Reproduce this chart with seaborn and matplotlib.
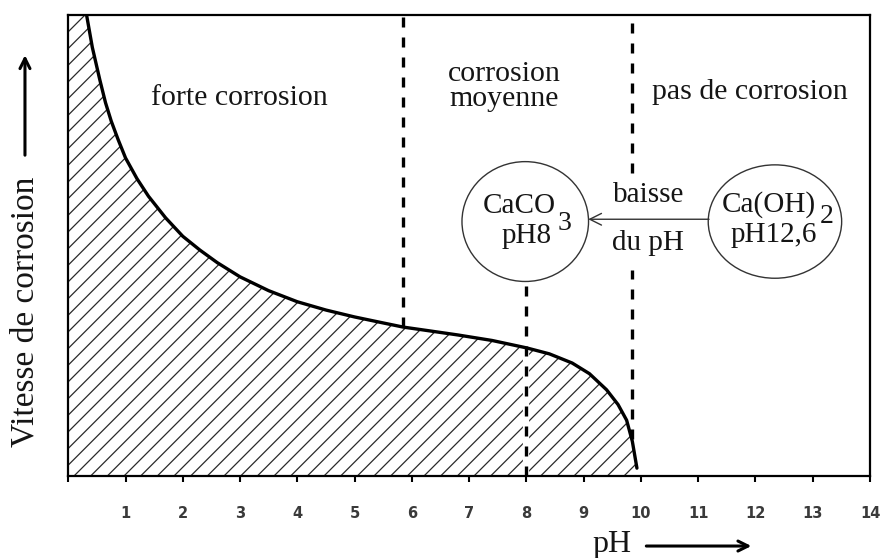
import matplotlib
matplotlib.use("Agg")
import pandas as pd
import seaborn as sns
from matplotlib import pyplot as plt
from matplotlib.patches import Ellipse

# vitesse de corrosion (1 = haut du cadre)
ph = [0.32, 0.42, 0.55, 0.65, 0.75, 0.87, 1.0, 1.2, 1.4, 1.7, 2.0, 2.3, 2.6, 3.0, 3.5, 4.0,
      4.5, 5.0, 5.5, 5.85, 6.3, 6.8, 7.4, 8.0, 8.4, 8.8, 9.1, 9.4, 9.6, 9.75, 9.85, 9.93]
vitesse = [1.0, 0.93, 0.86, 0.81, 0.77, 0.73, 0.69, 0.645, 0.607, 0.56, 0.52, 0.49, 0.463, 0.432, 0.402, 0.378,
           0.36, 0.345, 0.332, 0.323, 0.315, 0.306, 0.294, 0.278, 0.265, 0.245, 0.222, 0.187, 0.155, 0.121, 0.075, 0.017]

zones = ["forte corrosion", "corrosion\nmoyenne", "pas de corrosion"]
ph_limites = [5.85, 9.85]
ph_caco3 = 8.0
ph_tick_labels = [""] + [str(i) for i in range(1, 15)]

SERIF = "Liberation Serif"
INK = "#151515"

sns.set_theme(style="white")
plt.rcParams["font.family"] = [SERIF, "DejaVu Sans"]
plt.rcParams["hatch.linewidth"] = 0.9

df = pd.DataFrame({"pH": ph, "vitesse": vitesse})

fig = plt.figure(figsize=(8.82, 5.58), dpi=100)
ax = fig.add_axes([0.0774, 0.147, 0.909, 0.826])

# zone hachuree sous la courbe
ax.fill_between([0] + ph, [1.0] + vitesse, 0, facecolor="white",
                edgecolor="#2a2a2a", hatch="//", linewidth=0, zorder=1)
sns.lineplot(data=df, x="pH", y="vitesse", ax=ax, color="black", lw=2.4, zorder=4)

# limites des zones
dash = (3.0, 3.0)
ax.plot([ph_limites[0]] * 2, [vitesse[ph.index(5.85)], 1.0], color="black", lw=2.4, dashes=dash, zorder=3)
ax.plot([ph_limites[1]] * 2, [0.657, 1.0], color="black", lw=2.4, dashes=dash, zorder=3)
ax.plot([ph_limites[1]] * 2, [0.08, 0.447], color="black", lw=2.4, dashes=dash, zorder=3)
ax.plot([ph_caco3] * 2, [0, vitesse[ph.index(8.0)]], color="white", lw=4.5, zorder=2)
ax.plot([ph_caco3] * 2, [0, 0.421], color="black", lw=2.4, dashes=dash, zorder=3)

# textes des zones
ax.text(2.98, 0.82, zones[0], ha="center", va="center", fontsize=21.5, color=INK)
ax.text(7.61, 0.846, zones[1], ha="center", va="center", fontsize=21.5, color=INK, linespacing=0.95)
ax.text(11.9, 0.834, zones[2], ha="center", va="center", fontsize=21.5, color=INK)

# cercles CaCO3 / Ca(OH)2
ax.add_patch(Ellipse((7.98, 0.552), 2.21, 0.26, facecolor="white", edgecolor="#333333", lw=1.0, zorder=5))
ax.add_patch(Ellipse((12.34, 0.552), 2.33, 0.246, facecolor="white", edgecolor="#333333", lw=1.0, zorder=5))
ax.text(7.87, 0.585, "CaCO", ha="center", va="center", fontsize=21, color=INK, zorder=6)
ax.text(8.67, 0.547, "3", ha="center", va="center", fontsize=20, color=INK, zorder=6)
ax.text(8.0, 0.52, "pH8", ha="center", va="center", fontsize=21, color=INK, zorder=6)
ax.text(12.24, 0.588, "Ca(OH)", ha="center", va="center", fontsize=21, color=INK, zorder=6)
ax.text(13.24, 0.562, "2", ha="center", va="center", fontsize=20, color=INK, zorder=6)
ax.text(12.32, 0.523, "pH12,6", ha="center", va="center", fontsize=21, color=INK, zorder=6)

ax.annotate("", xy=(9.08, 0.557), xytext=(11.19, 0.557),
            arrowprops=dict(arrowstyle="->,head_length=0.7,head_width=0.35", color="#333333", lw=1.0,
                            shrinkA=0, shrinkB=0), zorder=6)
ax.text(10.13, 0.61, "baisse", ha="center", va="center", fontsize=21, color=INK)
ax.text(10.13, 0.505, "du pH", ha="center", va="center", fontsize=21, color=INK)

# axes
ax.set_xlim(0, 14)
ax.set_ylim(0, 1)
ax.set_xticks(range(15))
ax.set_xticklabels(ph_tick_labels, family="DejaVu Sans", fontsize=10.5, fontweight="bold", color="#3a3a3a")
ax.set_yticks([])
ax.tick_params(axis="x", direction="out", length=4.5, width=1.5, color="black", pad=17, bottom=True)
ax.set_xlabel("")
ax.set_ylabel("")
for s in ax.spines.values():
    s.set_color("black")
    s.set_linewidth(1.6)

# etiquettes des axes avec fleches
ax.text(-0.054, 0.356, "Vitesse de corrosion", rotation=90, ha="center", va="center",
        fontsize=24, color=INK, transform=ax.transAxes)
ax.annotate("", xy=(-0.054, 0.913), xytext=(-0.054, 0.696), xycoords="axes fraction",
            arrowprops=dict(arrowstyle="->,head_length=0.6,head_width=0.3", color="black", lw=2.2,
                            shrinkA=0, shrinkB=0), annotation_clip=False)
ax.text(0.678, -0.148, "pH", ha="center", va="center", fontsize=23, color=INK, transform=ax.transAxes)
ax.annotate("", xy=(0.852, -0.152), xytext=(0.721, -0.152), xycoords="axes fraction",
            arrowprops=dict(arrowstyle="->,head_length=0.6,head_width=0.3", color="black", lw=2.2,
                            shrinkA=0, shrinkB=0), annotation_clip=False)

fig.savefig("out.png", dpi=100)
